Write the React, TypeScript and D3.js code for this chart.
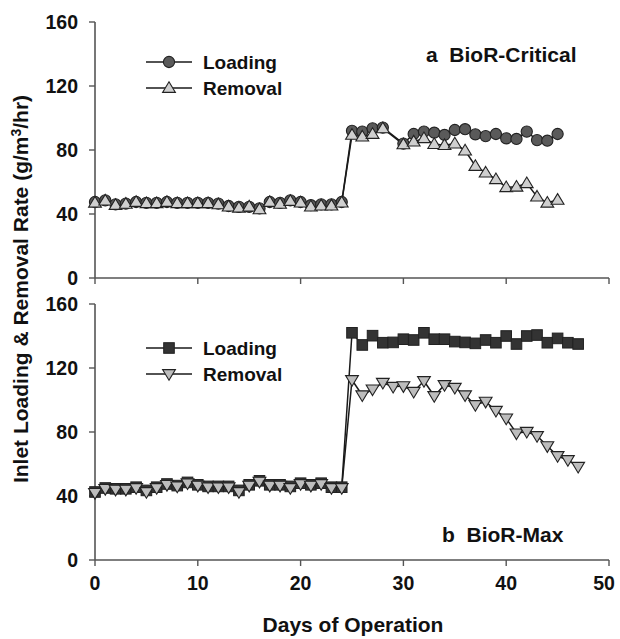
import React from "react";
import * as d3 from "d3";

const topDays = [0,1,2,3,4,5,6,7,8,9,10,11,12,13,14,15,16,17,18,19,20,21,22,23,24,25,26,27,28,30,31,32,33,34,35,36,37,38,39,40,41,42,43,44,45];
const topLoading = [47.5,48.5,46,46.5,47.5,47,47,47.5,47,47,47,47,46.5,45,44.5,44.5,43.5,47.5,47,48.5,47.5,45.5,46,46,47.5,
  92,91.5,93.5,94,
  84,90,91.5,90.8,89.4,92.5,93,89.8,88.7,90,87.3,86.9,91.5,86.2,85.8,90];
const topRemoval = [47,48.3,45.6,46.3,47.5,46.7,46.7,47.5,46.7,46.7,46.7,46.7,46,44.6,43.9,44.6,42.9,47.5,46.3,48.1,47.1,44.6,45.2,45.2,47.1,
  89.4,88.3,90,93.5,
  83.5,85.2,87.3,83.7,83,84,79.6,70,65.8,61.7,56.7,57,59.2,50.8,47,48.8];

const bottomDays = [0,1,2,3,4,5,6,7,8,9,10,11,12,13,14,15,16,17,18,19,20,21,22,23,24,25,26,27,28,29,30,31,32,33,34,35,36,37,38,39,40,41,42,43,44,45,46,47];
const bottomLoading = [42.5,45,44.5,44.5,45.5,43.5,45.5,47.5,46.5,48.5,47,46,46,46,43.5,47,49.5,47,47,46,48,47,48,45.5,45.5,
  142,134.4,140.2,135.8,136,138,137.5,142,138,138,136.5,136,135.4,137.5,135.8,140,135,140,140.6,135.8,138.5,135.8,135];
const bottomRemoval = [42,44.5,44,44,45,42.5,45,47,46,48,46.5,45.5,45.5,45.5,42.5,46.5,49,46.5,46.5,45,47.5,46.5,47.5,45,45,
  112.5,103,106.7,110.8,108.3,108.7,105.2,111.9,102.5,109.4,107.7,103,96.9,99,93.3,88.5,79.2,80.2,77.5,71.2,65,62.5,58.3];

const xTicks = [0, 10, 20, 30, 40, 50];
const yTicks = [0, 40, 80, 120, 160];
const seriesNames = ["Loading", "Removal"];
const panelTitles = ["a  BioR-Critical", "b  BioR-Max"];
const xTitle = "Days of Operation";

const FONT = "'Liberation Sans', Arial, Helvetica, sans-serif";
const AXIS = "#555";
const LINE = "#1a1a1a";

type Shape = "circle" | "triangle" | "square" | "tridown";

function Marker({ shape, x, y, fill }: { shape: Shape; x: number; y: number; fill: string }) {
  const s = 5.8;
  if (shape === "circle") return <circle cx={x} cy={y} r={5.6} fill={fill} stroke="#222" strokeWidth={1.1} />;
  if (shape === "square") return <rect x={x - 5.3} y={y - 5.3} width={10.6} height={10.6} fill={fill} stroke="#222" strokeWidth={1} />;
  if (shape === "triangle")
    return <path d={`M${x},${y - s - 0.5} L${x + s + 0.6},${y + s * 0.75} L${x - s - 0.6},${y + s * 0.75} Z`} fill={fill} stroke="#222" strokeWidth={1.1} />;
  return <path d={`M${x},${y + s + 0.5} L${x + s + 0.6},${y - s * 0.75} L${x - s - 0.6},${y - s * 0.75} Z`} fill={fill} stroke="#222" strokeWidth={1.1} />;
}

export default function App() {
  const W = 620, H = 639;
  const x = d3.scaleLinear().domain([0, 50]).range([95, 609]);
  const yTop = d3.scaleLinear().domain([0, 160]).range([278, 22]);
  const yBot = d3.scaleLinear().domain([0, 160]).range([560, 304]);

  const panels = [
    { y: yTop, days: topDays, load: topLoading, rem: topRemoval, lShape: "circle" as Shape, rShape: "triangle" as Shape, lFill: "#5a5a5a", rFill: "#cfcfcf", title: panelTitles[0], titleX: 426, titleY: 62, legY: 62, labels: false },
    { y: yBot, days: bottomDays, load: bottomLoading, rem: bottomRemoval, lShape: "square" as Shape, rShape: "tridown" as Shape, lFill: "#333", rFill: "#bdbdbd", title: panelTitles[1], titleX: 442, titleY: 542, legY: 348, labels: true },
  ];

  return (
    <svg width={W} height={H} style={{ display: "block", position: "absolute", left: 0, top: 0 }} fontFamily={FONT}>
      <rect width={W} height={H} fill="#fff" />
      {panels.map((p, pi) => {
        const y = p.y;
        const line = d3.line<number>().x((_, i) => x(p.days[i])).y((v) => y(v));
        return (
          <g key={pi}>
            <line x1={x(0)} x2={x(0)} y1={y(160)} y2={y(0)} stroke={AXIS} strokeWidth={1.6} />
            <line x1={x(0)} x2={x(50)} y1={y(0)} y2={y(0)} stroke={AXIS} strokeWidth={1.6} />
            {yTicks.map((t) => (
              <g key={t}>
                <line x1={x(0) - 6} x2={x(0)} y1={y(t)} y2={y(t)} stroke={AXIS} strokeWidth={1.4} />
                <text x={x(0) - 17} y={y(t)} dy="0.35em" textAnchor="end" fontSize={19.5} fontWeight="bold" fill="#111">{t}</text>
              </g>
            ))}
            {xTicks.map((t) => (
              <g key={t}>
                <line x1={x(t)} x2={x(t)} y1={y(0)} y2={y(0) + 6} stroke={AXIS} strokeWidth={1.4} />
                {p.labels && (
                  <text x={t === 50 ? x(t) - 5 : x(t)} y={y(0) + 30} textAnchor="middle" fontSize={19.5} fontWeight="bold" fill="#111">{t}</text>
                )}
              </g>
            ))}
            <path d={line(p.load) || ""} fill="none" stroke={LINE} strokeWidth={1.5} />
            <path d={line(p.rem) || ""} fill="none" stroke={LINE} strokeWidth={1.5} />
            {p.load.map((v, i) => (
              <Marker key={"l" + i} shape={p.lShape} x={x(p.days[i])} y={y(v)} fill={p.lFill} />
            ))}
            {p.rem.map((v, i) => (
              <Marker key={"r" + i} shape={p.rShape} x={x(p.days[i])} y={y(v)} fill={p.rFill} />
            ))}
            {[0, 1].map((k) => {
              const ly = p.legY + k * 26;
              return (
                <g key={k}>
                  <line x1={146} x2={192} y1={ly} y2={ly} stroke={LINE} strokeWidth={1.5} />
                  <Marker shape={k === 0 ? p.lShape : p.rShape} x={169} y={ly} fill={k === 0 ? p.lFill : p.rFill} />
                  <text x={203} y={ly} dy="0.36em" fontSize={19} fontWeight="bold" fill="#111">{seriesNames[k]}</text>
                </g>
              );
            })}
            <text x={p.titleX} y={p.titleY} fontSize={21} fontWeight="bold" fill="#111" style={{ whiteSpace: "pre" }}>{p.title}</text>
          </g>
        );
      })}
      <text x={353} y={632} textAnchor="middle" fontSize={21} fontWeight="bold" fill="#111">{xTitle}</text>
      <text transform="translate(28,289) rotate(-90)" textAnchor="middle" fontSize={21} fontWeight="bold" fill="#111">
        Inlet Loading &amp; Removal Rate (g/m<tspan dy={-7} fontSize={14}>3</tspan><tspan dy={7}>/hr)</tspan>
      </text>
    </svg>
  );
}
